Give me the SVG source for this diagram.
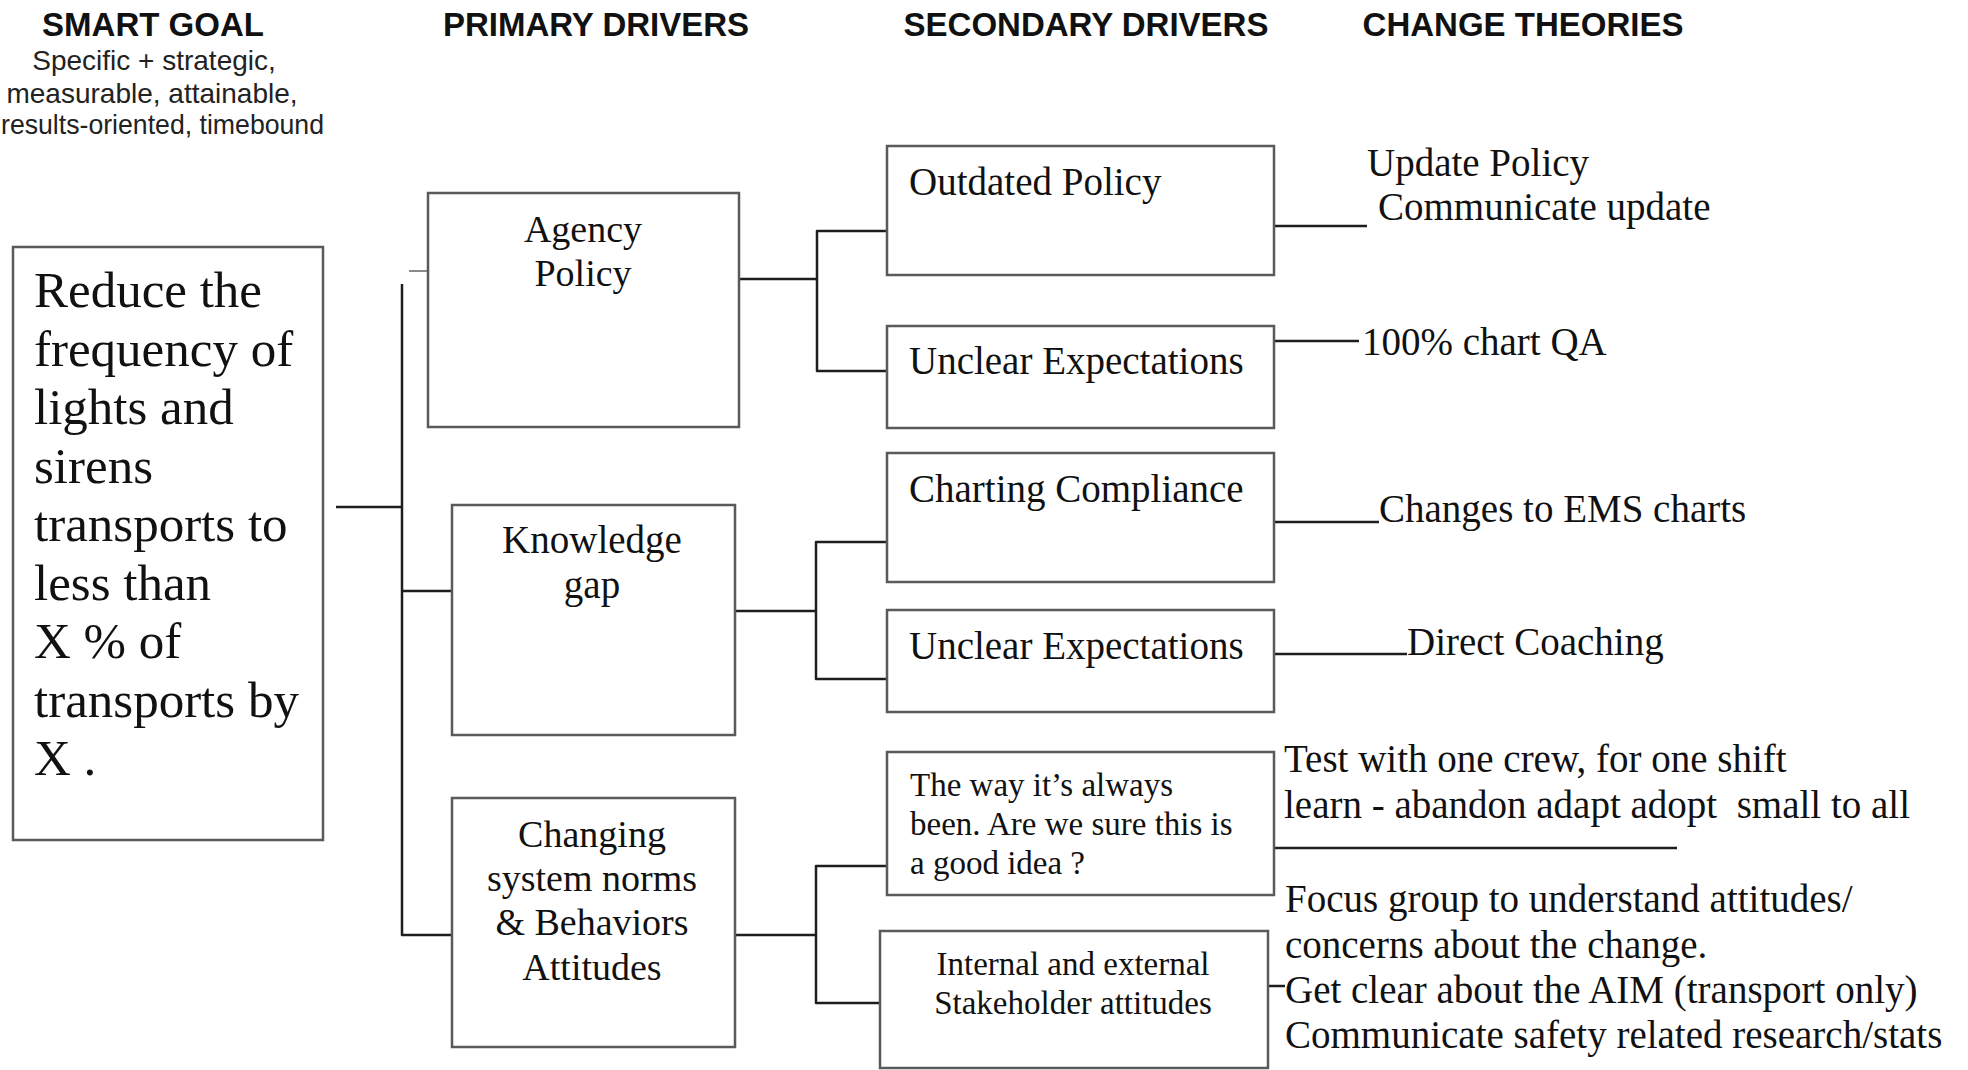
<svg xmlns="http://www.w3.org/2000/svg" width="1968" height="1070" viewBox="0 0 1968 1070">
<style>
.bg{fill:#fff}
.box{fill:#fff;stroke:#5a5a5a;stroke-width:2.5}
.conn{fill:none;stroke:#1e1e1e;stroke-width:2.5;stroke-linejoin:round}
.tick{fill:none;stroke:#8a8a8a;stroke-width:2}
.hdr{font-family:"Liberation Sans",Arial,sans-serif;font-weight:bold;font-size:33px;fill:#111;text-anchor:middle}
.sub{font-family:"Liberation Sans",Arial,sans-serif;font-size:28px;fill:#222;text-anchor:middle}
.goal{font-family:"Liberation Serif","Times New Roman",serif;font-size:51px;fill:#111}
.t39{font-family:"Liberation Serif","Times New Roman",serif;font-size:39px;fill:#111}
.t38{font-family:"Liberation Serif","Times New Roman",serif;font-size:38px;fill:#111}
.t33{font-family:"Liberation Serif","Times New Roman",serif;font-size:33px;fill:#111}
.mid{text-anchor:middle}
</style>
<rect class="bg" x="0" y="0" width="1968" height="1070"/>

<g id="headers">
<text class="hdr" x="153" y="36">SMART GOAL</text>
<text class="sub" x="154" y="70">Specific + strategic,</text>
<text class="sub" x="152" y="103">measurable, attainable,</text>
<text class="sub" x="1" y="134" style="text-anchor:start" textLength="323" lengthAdjust="spacingAndGlyphs">results-oriented, timebound</text>
<text class="hdr" x="596" y="36">PRIMARY DRIVERS</text>
<text class="hdr" x="1086" y="36">SECONDARY DRIVERS</text>
<text class="hdr" x="1523" y="36">CHANGE THEORIES</text>
</g>

<g id="connectors">
<path class="conn" d="M336,507 H402"/>
<path class="conn" d="M402,284 V935 H452"/>
<path class="conn" d="M402,591 H452"/>
<path class="tick" d="M409,271 H428"/>
<path class="conn" d="M739,279 H817"/>
<path class="conn" d="M887,231 H817 V371 H887"/>
<path class="conn" d="M735,611 H816"/>
<path class="conn" d="M887,542 H816 V679 H887"/>
<path class="conn" d="M735,935 H816"/>
<path class="conn" d="M887,866 H816 V1003 H880"/>
<path class="conn" d="M1274,226 H1367"/>
<path class="conn" d="M1274,341 H1359"/>
<path class="conn" d="M1274,522 H1379"/>
<path class="conn" d="M1274,654 H1407"/>
<path class="conn" d="M1274,848 H1677"/>
<path class="conn" d="M1268,986 H1285"/>
</g>

<g id="goal">
<rect class="box" x="13" y="247" width="310" height="593"/>
<text class="goal" x="34" y="307">Reduce the</text>
<text class="goal" x="34" y="366">frequency of</text>
<text class="goal" x="34" y="424">lights and</text>
<text class="goal" x="34" y="483">sirens</text>
<text class="goal" x="34" y="541">transports to</text>
<text class="goal" x="34" y="600">less than</text>
<text class="goal" x="34" y="658">X % of</text>
<text class="goal" x="34" y="717">transports by</text>
<text class="goal" x="34" y="775">X .</text>
</g>

<g id="agency-policy">
<rect class="box" x="428" y="193" width="311" height="234"/>
<text class="t38 mid" x="583" y="242">Agency</text>
<text class="t38 mid" x="583" y="286">Policy</text>
</g>

<g id="knowledge-gap">
<rect class="box" x="452" y="505" width="283" height="230"/>
<text class="t39 mid" x="592" y="553">Knowledge</text>
<text class="t39 mid" x="592" y="598">gap</text>
</g>

<g id="changing-norms">
<rect class="box" x="452" y="798" width="283" height="249"/>
<text class="t38 mid" x="592" y="847">Changing</text>
<text class="t38 mid" x="592" y="891">system norms</text>
<text class="t38 mid" x="592" y="935">&amp; Behaviors</text>
<text class="t38 mid" x="592" y="980">Attitudes</text>
</g>

<g id="outdated-policy">
<rect class="box" x="887" y="146" width="387" height="129"/>
<text class="t39" x="909" y="195">Outdated Policy</text>
</g>

<g id="unclear-expectations-1">
<rect class="box" x="887" y="326" width="387" height="102"/>
<text class="t39" x="909" y="374">Unclear Expectations</text>
</g>

<g id="charting-compliance">
<rect class="box" x="887" y="453" width="387" height="129"/>
<text class="t39" x="909" y="502">Charting Compliance</text>
</g>

<g id="unclear-expectations-2">
<rect class="box" x="887" y="610" width="387" height="102"/>
<text class="t39" x="909" y="659">Unclear Expectations</text>
</g>

<g id="the-way">
<rect class="box" x="887" y="752" width="387" height="143"/>
<text class="t33" x="910" y="796">The way it’s always</text>
<text class="t33" x="910" y="835">been. Are we sure this is</text>
<text class="t33" x="910" y="874">a good idea ?</text>
</g>

<g id="stakeholder">
<rect class="box" x="880" y="931" width="388" height="137"/>
<text class="t33 mid" x="1073" y="975">Internal and external</text>
<text class="t33 mid" x="1073" y="1014">Stakeholder attitudes</text>
</g>

<g id="theories">
<text class="t39" x="1367" y="176">Update Policy</text>
<text class="t39" x="1378" y="220">Communicate update</text>
<text class="t39" x="1362" y="355">100% chart QA</text>
<text class="t39" x="1379" y="522">Changes to EMS charts</text>
<text class="t39" x="1407" y="655">Direct Coaching</text>
<text class="t39" x="1284" y="772">Test with one crew, for one shift</text>
<text class="t39" x="1284" y="818" xml:space="preserve">learn - abandon adapt adopt  small to all</text>
<text class="t39" x="1285" y="912">Focus group to understand attitudes/</text>
<text class="t39" x="1285" y="958">concerns about the change.</text>
<text class="t39" x="1285" y="1003">Get clear about the AIM (transport only)</text>
<text class="t39" x="1285" y="1048">Communicate safety related research/stats</text>
</g>
</svg>
